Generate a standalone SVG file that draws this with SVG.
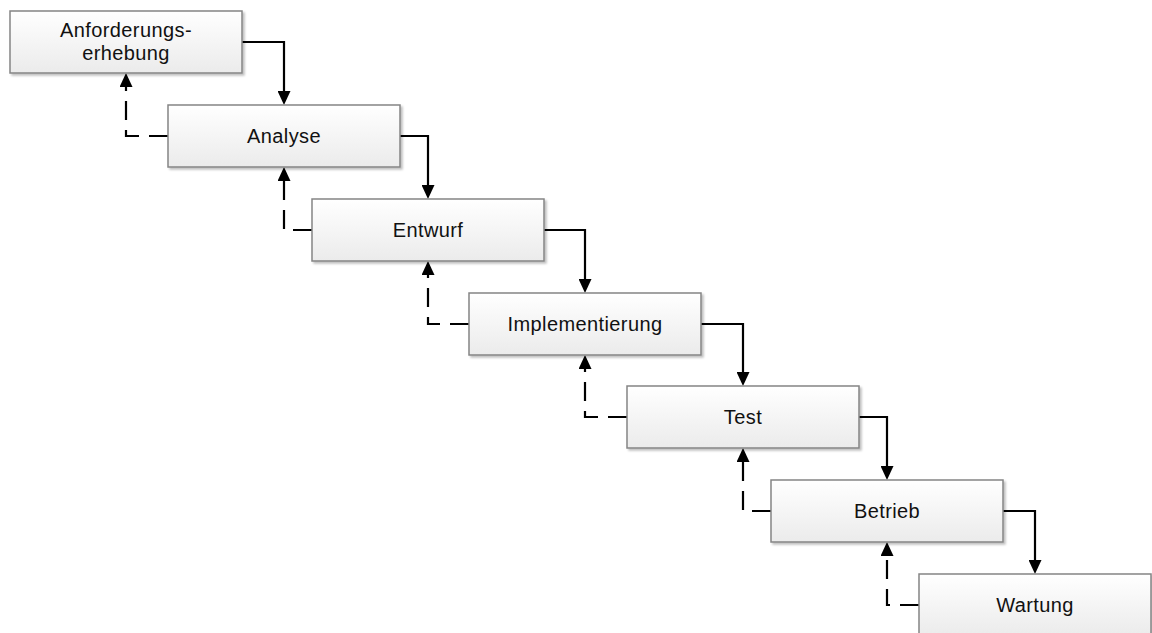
<svg xmlns="http://www.w3.org/2000/svg" width="1152" height="633" viewBox="0 0 1152 633">
  <style>
    .box { fill: url(#boxFill); stroke: #858585; stroke-width: 1.5; filter: url(#shadow); }
    .label { font-family: "Liberation Sans", Arial, sans-serif; font-size: 20px; letter-spacing: 0.4px; fill: #111; text-anchor: middle; }
    .flow { fill: none; stroke: #000; stroke-width: 2.2; marker-end: url(#head); }
    .back { fill: none; stroke: #000; stroke-width: 2.2; stroke-dasharray: 19 10; marker-end: url(#head); }
  </style>
  <defs>
    <linearGradient id="boxFill" x1="0" y1="0" x2="0" y2="1">
      <stop offset="0" stop-color="#ffffff"/>
      <stop offset="1" stop-color="#ebebeb"/>
    </linearGradient>
    <filter id="shadow" x="-5%" y="-10%" width="110%" height="125%">
      <feGaussianBlur in="SourceAlpha" stdDeviation="1"/>
      <feOffset dx="1.5" dy="1.5" result="b"/>
      <feComponentTransfer><feFuncA type="linear" slope="0.25"/></feComponentTransfer>
      <feMerge><feMergeNode/><feMergeNode in="SourceGraphic"/></feMerge>
    </filter>
    <marker id="head" markerUnits="userSpaceOnUse" markerWidth="14" markerHeight="13" refX="0" refY="6.5" orient="auto">
      <path d="M0,0 L14,6.5 L0,13 z" fill="#000"/>
    </marker>
  </defs>

  <g id="connectors">
    <!-- forward flow: right edge to top centre of next phase -->
    <path class="flow" d="M242,42 H284 V91"/>
    <path class="flow" d="M400,136 H428 V185"/>
    <path class="flow" d="M544,230 H585 V279"/>
    <path class="flow" d="M701,324 H743 V372"/>
    <path class="flow" d="M859,417 H887 V466"/>
    <path class="flow" d="M1003,511 H1035 V560"/>
    <!-- feedback: left edge back up to previous phase -->
    <path class="back" d="M168,136 H126 V87"/>
    <path class="back" d="M312,230 H284 V181"/>
    <path class="back" d="M469,324 H428 V275"/>
    <path class="back" d="M627,417 H585 V369"/>
    <path class="back" d="M771,511 H743 V462"/>
    <path class="back" d="M919,605 H887 V556"/>
  </g>

  <g id="anforderungserhebung">
    <rect class="box" x="10" y="11" width="232" height="62"/>
    <text class="label" x="126" y="37">Anforderungs-</text>
    <text class="label" x="126" y="60">erhebung</text>
  </g>
  <g id="analyse">
    <rect class="box" x="168" y="105" width="232" height="62"/>
    <text class="label" x="284" y="143">Analyse</text>
  </g>
  <g id="entwurf">
    <rect class="box" x="312" y="199" width="232" height="62"/>
    <text class="label" x="428" y="237">Entwurf</text>
  </g>
  <g id="implementierung">
    <rect class="box" x="469" y="293" width="232" height="62"/>
    <text class="label" x="585" y="331">Implementierung</text>
  </g>
  <g id="test">
    <rect class="box" x="627" y="386" width="232" height="62"/>
    <text class="label" x="743" y="424">Test</text>
  </g>
  <g id="betrieb">
    <rect class="box" x="771" y="480" width="232" height="62"/>
    <text class="label" x="887" y="518">Betrieb</text>
  </g>
  <g id="wartung">
    <rect class="box" x="919" y="574" width="232" height="62"/>
    <text class="label" x="1035" y="612">Wartung</text>
  </g>
</svg>
